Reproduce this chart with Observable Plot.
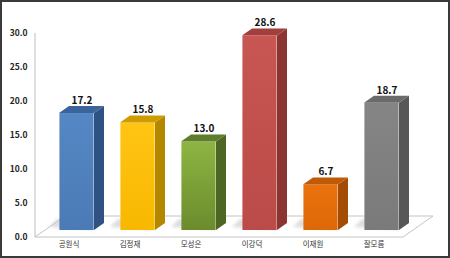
<!DOCTYPE html>
<html><head><meta charset="utf-8">
<script src="https://cdn.jsdelivr.net/npm/d3@7"></script>
<script src="https://cdn.jsdelivr.net/npm/@observablehq/plot@0.6"></script>
<style>
html,body{margin:0;padding:0;background:#fff}
#chart svg{display:block;outline:2px solid #3a3a3a;outline-offset:-2px}
</style></head>
<body><div id="chart"></div>
<script>
const categories = ["공원식", "김정재", "모성은", "이강덕", "이재원", "잘모름"];
const values = [17.2, 15.8, 13.0, 28.6, 6.7, 18.7];
const yTicks = [0, 5, 10, 15, 20, 25, 30];
const frontColors = ["url(#gBlue)", "url(#gYellow)", "url(#gGreen)", "url(#gRed)", "url(#gOrange)", "url(#gGray)"];
const sideColors = ["#2f5283", "#b38700", "#4d6623", "#8b3533", "#a34c05", "#575757"];
const topColors = ["#3b659a", "#cf9c00", "#5e7e2b", "#a23f3c", "#c05a07", "#6a6a6a"];
const gradients = [
  ["gBlue", "#5587c4", "#4a7bb6"],
  ["gYellow", "#ffc414", "#f8b800"],
  ["gGreen", "#8db543", "#6b8b2d"],
  ["gRed", "#c85653", "#bb4b48"],
  ["gOrange", "#ea720e", "#de6808"],
  ["gGray", "#858585", "#7a7a7a"]
];

const data = categories.map((name, i) => ({
  name, value: values[i], front: frontColors[i], side: sideColors[i], top: topColors[i]
}));

const W = 450, H = 258, ML = 35, MR = 44, MT = 33, MB = 21;
const BAR_W = 35, SHIFT_X = 8, SHIFT_Y = 7, DX = 10, DY = 7;
const step = (W - ML - MR) / categories.length;
const inset = (step - BAR_W) / 2;

function floorMark(index, scales) {
  const {x, y} = scales;
  const g = d3.create("svg:g");
  const defs = g.append("defs");
  for (const [id, c0, c1] of gradients) {
    const lg = defs.append("linearGradient").attr("id", id).attr("x1", 0).attr("y1", 0).attr("x2", 0).attr("y2", 1);
    lg.append("stop").attr("offset", "0%").attr("stop-color", c0);
    lg.append("stop").attr("offset", "100%").attr("stop-color", c1);
  }
  defs.append("filter").attr("id", "blurS").append("feGaussianBlur").attr("stdDeviation", 1.5);
  const [r0, r1] = x.range();
  const y0 = y(0);
  const fx0 = r0, fx1 = r1 - 3;
  g.append("polygon")
    .attr("points", [[fx0, y0], [fx1, y0], [fx1 + 30, y0 - 21], [fx0 + 30, y0 - 21]].map(p => p.join(",")).join(" "))
    .attr("fill", "#fff").attr("stroke", "#c4c4c4").attr("stroke-width", 1);
  // soft shadows
  for (const d of data) {
    const x0 = x(d.name) + x.bandwidth() / 2 + SHIFT_X - BAR_W / 2;
    const x1 = x0 + BAR_W;
    const yb = y0 - SHIFT_Y;
    g.append("polygon")
      .attr("points", [[x0 - 10, yb - 3], [x0 - 2, yb - 11], [x1, yb - 11], [x1, yb]].map(p => p.join(",")).join(" "))
      .attr("fill", "#c8c8c8").attr("opacity", 0.6).attr("filter", "url(#blurS)");
  }
  // y axis line
  g.append("line").attr("x1", r0).attr("x2", r0).attr("y1", y(0)).attr("y2", y(30))
    .attr("stroke", "#bdbdbd").attr("stroke-width", 1);
  return g.node();
}

function sidesMark(index, scales) {
  const {x, y} = scales;
  const g = d3.create("svg:g");
  for (const d of data) {
    const x0 = x(d.name) + x.bandwidth() / 2 + SHIFT_X - BAR_W / 2;
    const x1 = x0 + BAR_W;
    const yb = y(0) - SHIFT_Y, yt = y(d.value) - SHIFT_Y;
    g.append("polygon")
      .attr("points", [[x1, yb], [x1 + DX, yb - DY], [x1 + DX, yt - DY], [x1, yt]].map(p => p.join(",")).join(" "))
      .attr("fill", d.side);
    g.append("polygon")
      .attr("points", [[x0, yt], [x0 + DX, yt - DY], [x1 + DX, yt - DY], [x1, yt]].map(p => p.join(",")).join(" "))
      .attr("fill", d.top);
  }
  return g.node();
}

const chart = Plot.plot({
  width: W, height: H,
  marginLeft: ML, marginRight: MR, marginTop: MT, marginBottom: MB,
  style: {fontFamily: "'Noto Sans CJK KR', 'Liberation Sans', sans-serif", background: "#fff"},
  x: {domain: categories, padding: 0, axis: null},
  y: {domain: [0, 30], axis: null},
  color: {type: "identity"},
  marks: [
    floorMark,
    Plot.barY(data, {x: "name", y: "value", fill: "front", insetLeft: inset, insetRight: inset, dx: SHIFT_X, dy: -SHIFT_Y}),
    sidesMark,
    Plot.text(data, {x: "name", y: "value", text: d => d.value.toFixed(1), dx: SHIFT_X + DX / 2, dy: -20,
      fontWeight: "bold", fontSize: 10, fill: "#111"}),
    Plot.text(yTicks, {y: d => d, text: d => d.toFixed(1), frameAnchor: "left", textAnchor: "end", dx: -8,
      fontWeight: "bold", fontSize: 8.5, fill: "#222"}),
    Plot.text(categories, {x: d => d, frameAnchor: "bottom", dy: 9, fontSize: 7.5, fill: "#333"})
  ]
});
document.getElementById("chart").appendChild(chart);
</script>
</body></html>
